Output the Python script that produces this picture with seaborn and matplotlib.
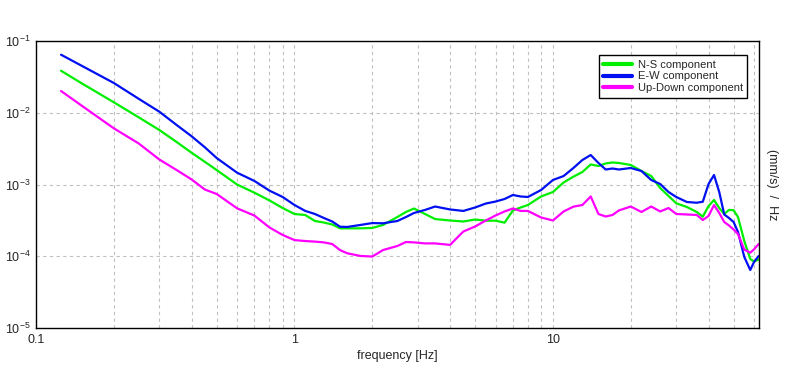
import matplotlib
matplotlib.use('Agg')
import matplotlib.pyplot as plt
import matplotlib.ticker as mticker
import pandas as pd
import seaborn as sns

# frequency axis [Hz]
freq = [0.125, 0.15, 0.2, 0.25, 0.3, 0.35, 0.4, 0.45, 0.5,
        0.6, 0.7, 0.8, 0.9, 1.0,
        1.1, 1.2, 1.3, 1.4, 1.5, 1.6, 1.8, 2.0,
        2.2, 2.5, 2.7, 2.9, 3.2, 3.5,
        4, 4.5, 5, 5.5, 6, 6.5, 7, 7.5, 8, 9, 10,
        11, 12, 13, 14, 15, 16, 17, 18,
        20, 22, 24, 26, 28, 30,
        33, 36, 38, 40, 42, 44, 46, 48, 50, 52,
        55, 58, 60, 62.5]

ns_psd = [0.0385, 0.0258, 0.0140, 0.00861, 0.00575, 0.00391, 0.00277, 0.00207, 0.00159,
          0.000998, 0.000769, 0.000600, 0.000470, 0.000388,
          0.000376, 0.000310, 0.000295, 0.000277, 0.000245, 0.000245, 0.000245, 0.000248,
          0.000273, 0.000352, 0.000414, 0.000463, 0.000388, 0.000330,
          0.000315, 0.000305, 0.000325, 0.000313, 0.000313, 0.000294, 0.000435, 0.000478,
          0.000518, 0.000681, 0.000786,
          0.001067, 0.001285, 0.001493, 0.001901, 0.001811, 0.001963, 0.002028, 0.001995,
          0.001871, 0.001542, 0.001313, 0.000893, 0.000692, 0.000547,
          0.000485, 0.000414, 0.000356, 0.000501, 0.000608, 0.000470, 0.000388, 0.000442,
          0.000438, 0.000352,
          0.000163, 0.0000916, 0.0000845, 0.0000901]

ew_psd = [0.0644, 0.0453, 0.0260, 0.0156, 0.01035, 0.00675, 0.00470, 0.00330, 0.00234,
          0.00146, 0.00112, 0.000822, 0.000670, 0.000518,
          0.000429, 0.000388, 0.000341, 0.000305, 0.000258, 0.000256, 0.000273, 0.000290,
          0.000288, 0.000310, 0.000352, 0.000401, 0.000442, 0.000493,
          0.000449, 0.000428, 0.000478, 0.000543, 0.000579, 0.000628, 0.000714, 0.000681,
          0.000670, 0.000838, 0.001156,
          0.001313, 0.001698, 0.002194, 0.002576, 0.001995, 0.001618, 0.001671, 0.001618,
          0.001698, 0.001542, 0.001156, 0.001016, 0.000786, 0.000670,
          0.000570, 0.000557, 0.000575, 0.001016, 0.001356, 0.000786, 0.000382, 0.000341,
          0.000300, 0.000218,
          0.0000977, 0.0000643, 0.0000832, 0.0001007]

ud_psd = [0.0201, 0.0126, 0.00607, 0.00372, 0.00223, 0.00159, 0.001175, 0.000851, 0.000738,
          0.000465, 0.000369, 0.000252, 0.000198, 0.000168,
          0.000163, 0.000160, 0.000156, 0.000148, 0.000122, 0.000110, 0.000101, 0.0000991,
          0.000122, 0.000139, 0.000158, 0.000156, 0.000151, 0.000151,
          0.000144, 0.000221, 0.000260, 0.000315, 0.000370, 0.000421, 0.000463, 0.000428,
          0.000428, 0.000347, 0.000315,
          0.000421, 0.000491, 0.000518, 0.000681, 0.000388, 0.000358, 0.000376, 0.000435,
          0.000493, 0.000414, 0.000493, 0.000421, 0.000470, 0.000388,
          0.000382, 0.000376, 0.000320, 0.000364, 0.000518, 0.000401, 0.000300, 0.000268,
          0.000236, 0.000204,
          0.000124, 0.000112, 0.000125, 0.000148]

components = ['N-S component', 'E-W component', 'Up-Down component']
colors = ['#00ee00', '#0010f0', '#ff00ff']

df = pd.concat([
    pd.DataFrame({'freq': freq, 'psd': vals, 'component': name})
    for name, vals in zip(components, [ns_psd, ew_psd, ud_psd])
])

sns.set_style('white')
plt.rcParams['font.family'] = ['Liberation Sans', 'DejaVu Sans']
plt.rcParams['mathtext.fontset'] = 'custom'
plt.rcParams['mathtext.rm'] = 'Liberation Sans'

fig = plt.figure(figsize=(7.96, 3.70), dpi=100)
ax = fig.add_axes([36 / 796, 1 - 328 / 370, 723 / 796, 287 / 370])

sns.lineplot(data=df, x='freq', y='psd', hue='component', hue_order=components,
             palette=dict(zip(components, colors)), linewidth=1.6, sort=False,
             estimator=None, ax=ax)

ax.set_xscale('log')
ax.set_yscale('log')
ax.set_xlim(0.1, 62.7)
ax.set_ylim(1e-5, 1e-1)

ax.set_xticks([0.1, 1, 10])
ax.set_xticklabels(['0.1', '1', '10'])
ax.xaxis.set_minor_locator(mticker.LogLocator(base=10, subs=range(2, 10), numticks=20))
ax.xaxis.set_minor_formatter(mticker.NullFormatter())
ax.yaxis.set_major_locator(mticker.LogLocator(base=10, numticks=10))
ax.yaxis.set_minor_locator(mticker.NullLocator())

grid_kw = dict(color='#c0c0c0', linestyle=(0, (3, 3)), linewidth=0.8)
ax.grid(True, which='major', axis='both', **grid_kw)
ax.grid(True, which='minor', axis='x', **grid_kw)

ax.tick_params(axis='both', which='major', labelsize=9, length=0, pad=4)
ax.tick_params(axis='x', which='minor', direction='in', length=3, width=0.6, color='#999999')
for s in ax.spines.values():
    s.set_color('black')
    s.set_linewidth(1.0)

ax.set_xlabel('frequency [Hz]', fontsize=9, labelpad=3)
ax.set_ylabel('(mm/s)  /  Hz', fontsize=9, rotation=270, labelpad=14)
ax.yaxis.set_label_position('right')

leg = ax.legend(loc='upper right', bbox_to_anchor=(0.984, 0.95), borderaxespad=0,
                fontsize=8, frameon=True, fancybox=False, framealpha=1,
                edgecolor='black', handlelength=2.6, handletextpad=0.5,
                labelspacing=0.15, borderpad=0.4)
leg.get_frame().set_linewidth(1.0)
for line in leg.get_lines():
    line.set_linewidth(3)

fig.savefig('out.png', dpi=100)
